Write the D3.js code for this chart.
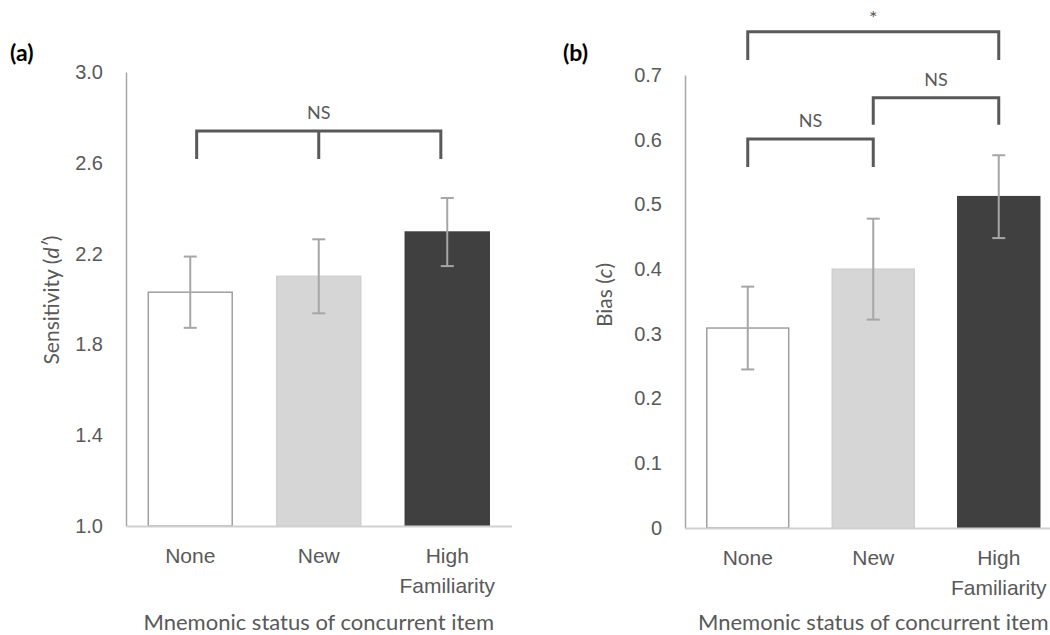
<!DOCTYPE html>
<html>
<head>
<meta charset="utf-8">
<script src="https://cdn.jsdelivr.net/npm/d3@7"></script>
<style>
  body { margin: 0; background: #fff; }
  svg { display: block; font-family: Lato, "Open Sans", sans-serif; }
  .tick text { fill: #595959; }
</style>
</head>
<body>
<svg id="chart" width="1050" height="635"></svg>
<script>
const categories = ["None", "New", "High Familiarity"];
const barFills = ["#ffffff", "#d6d6d6", "#404040"];
const barStrokes = ["#a0a0a0", "#d0d0d0", "#404040"];

// panel (a) sensitivity d'
const sensitivityMeans = [2.03, 2.1, 2.295];
const sensitivityErrors = [0.157, 0.163, 0.15];
const sensitivityTicks = [1.0, 1.4, 1.8, 2.2, 2.6, 3.0];
const sensitivityBrackets = [
  { at: [0.05, 1, 1.95], top: 2.74, foot: 2.617, label: "NS" },
];

// panel (b) bias c
const biasMeans = [0.309, 0.4, 0.512];
const biasErrors = [0.064, 0.078, 0.064];
const biasTicks = [0, 0.1, 0.2, 0.3, 0.4, 0.5, 0.6, 0.7];
const biasBrackets = [
  { at: [0, 2], top: 0.767, foot: 0.723, label: "*" },
  { at: [1, 2], top: 0.665, foot: 0.623, label: "NS" },
  { at: [0, 1], top: 0.601, foot: 0.558, label: "NS" },
];

const svg = d3.select("#chart");
const gray = "#595959";

function drawPanel(opts) {
  const g = svg.append("g");

  const x = d3
    .scaleBand()
    .domain(categories)
    .range(opts.xRange)
    .paddingInner(0.335)
    .paddingOuter(0.1675);
  const y = d3.scaleLinear().domain(opts.yDomain).range(opts.yRange);
  const centre = (i) => x(categories[0]) + x.bandwidth() / 2 + i * x.step();

  // bars
  g.selectAll("rect.bar")
    .data(opts.means)
    .enter()
    .append("rect")
    .attr("class", "bar")
    .attr("x", (d, i) => x(categories[i]) + 0.75)
    .attr("width", x.bandwidth() - 1.5)
    .attr("y", (d) => y(d))
    .attr("height", (d) => y(opts.yDomain[0]) - y(d))
    .attr("fill", (d, i) => barFills[i])
    .attr("stroke", (d, i) => barStrokes[i])
    .attr("stroke-width", 1.5);

  // error bars
  const err = g
    .selectAll("g.err")
    .data(opts.means)
    .enter()
    .append("g")
    .attr("class", "err")
    .attr("stroke", "#a6a6a6")
    .attr("stroke-width", 2);
  err.append("line")
    .attr("x1", (d, i) => centre(i))
    .attr("x2", (d, i) => centre(i))
    .attr("y1", (d, i) => y(d + opts.errors[i]))
    .attr("y2", (d, i) => y(d - opts.errors[i]));
  [1, -1].forEach((sign) => {
    err.append("line")
      .attr("x1", (d, i) => centre(i) - 6.5)
      .attr("x2", (d, i) => centre(i) + 6.5)
      .attr("y1", (d, i) => y(d + sign * opts.errors[i]))
      .attr("y2", (d, i) => y(d + sign * opts.errors[i]));
  });

  // axes
  const yAxis = g
    .append("g")
    .attr("transform", `translate(${opts.xRange[0]},0)`)
    .call(
      d3.axisLeft(y)
        .tickValues(opts.ticks)
        .tickSize(0)
        .tickPadding(23)
        .tickFormat(opts.tickFormat)
    );
  yAxis.select(".domain").attr("stroke", "#a6a6a6").attr("stroke-width", 1.5);
  yAxis.selectAll(".tick text").attr("font-size", 20);

  const xAxis = g
    .append("g")
    .attr("transform", `translate(0,${y(opts.yDomain[0])})`)
    .call(d3.axisBottom(x).tickSize(0).tickSizeOuter(0));
  xAxis.select(".domain").attr("stroke", "#d0d0d0").attr("stroke-width", 2);
  xAxis.selectAll(".tick text")
    .attr("font-size", 21)
    .attr("y", 0)
    .attr("dy", 0)
    .text(null)
    .selectAll("tspan")
    .data((d) => d.split(" "))
    .enter()
    .append("tspan")
    .attr("x", 0)
    .attr("y", (d, i) => 37 + i * 30)
    .text((d) => d);

  // axis titles
  g.append("text")
    .attr("x", (opts.xRange[0] + opts.xRange[1]) / 2)
    .attr("y", 630)
    .attr("text-anchor", "middle")
    .attr("font-size", 22)
    .attr("fill", gray)
    .text("Mnemonic status of concurrent item");

  const yTitle = g
    .append("text")
    .attr("transform", `translate(${opts.yTitleX},${opts.yTitleY}) rotate(-90)`)
    .attr("text-anchor", "middle")
    .attr("dy", "0.35em")
    .attr("font-size", 21)
    .attr("fill", gray);
  yTitle.append("tspan").text(opts.yTitle[0]);
  yTitle.append("tspan").attr("font-style", "italic").text(opts.yTitle[1]);
  yTitle.append("tspan").text(opts.yTitle[2]);

  // panel letter
  g.append("text")
    .attr("x", opts.letterX)
    .attr("y", 61)
    .attr("font-size", 23)
    .attr("font-weight", "bold")
    .attr("fill", "#000")
    .text(opts.letter);

  // significance brackets
  opts.brackets.forEach((b) => {
    const xs = b.at.map(centre);
    const path = d3.path();
    path.moveTo(xs[0], y(b.foot));
    path.lineTo(xs[0], y(b.top));
    path.lineTo(xs[xs.length - 1], y(b.top));
    path.lineTo(xs[xs.length - 1], y(b.foot));
    xs.slice(1, -1).forEach((xm) => {
      path.moveTo(xm, y(b.top));
      path.lineTo(xm, y(b.foot));
    });
    g.append("path")
      .attr("d", path.toString())
      .attr("fill", "none")
      .attr("stroke", gray)
      .attr("stroke-width", 3);
    g.append("text")
      .attr("x", (xs[0] + xs[xs.length - 1]) / 2)
      .attr("y", y(b.top) - (b.label === "*" ? 7 : 12))
      .attr("text-anchor", "middle")
      .attr("font-size", b.label === "*" ? 20 : 18)
      .attr("fill", gray)
      .text(b.label);
  });
}

drawPanel({
  xRange: [126, 511.5],
  yDomain: [1, 3],
  yRange: [526, 72],
  means: sensitivityMeans,
  errors: sensitivityErrors,
  ticks: sensitivityTicks,
  tickFormat: d3.format(".1f"),
  brackets: sensitivityBrackets,
  yTitle: ["Sensitivity (", "d\u2032", ")"],
  yTitleX: 52,
  yTitleY: 300,
  letter: "(a)",
  letterX: 10,
});

drawPanel({
  xRange: [685, 1061.5],
  yDomain: [0, 0.7],
  yRange: [528, 75],
  means: biasMeans,
  errors: biasErrors,
  ticks: biasTicks,
  tickFormat: (d) => (d === 0 ? "0" : d3.format(".1f")(d)),
  brackets: biasBrackets,
  yTitle: ["Bias (", "c", ")"],
  yTitleX: 605,
  yTitleY: 295,
  letter: "(b)",
  letterX: 563,
});
</script>
</body>
</html>
